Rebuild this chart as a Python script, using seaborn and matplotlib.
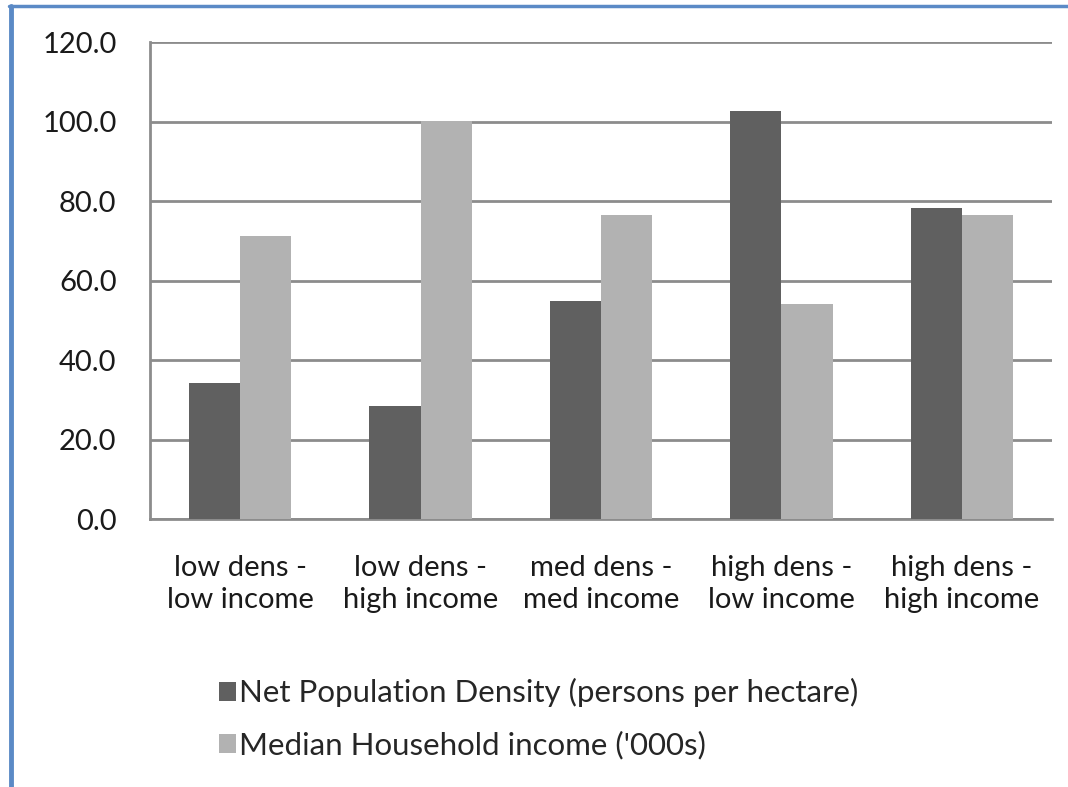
import matplotlib
matplotlib.use("Agg")
import matplotlib.pyplot as plt
import seaborn as sns
import pandas as pd
from matplotlib.ticker import FormatStrFormatter, FixedLocator
from matplotlib.lines import Line2D

categories = [
    "low dens -\nlow income",
    "low dens -\nhigh income",
    "med dens -\nmed income",
    "high dens -\nlow income",
    "high dens -\nhigh income",
]
density = [34.3, 28.5, 54.8, 102.7, 78.2]
income = [71.2, 100.1, 76.5, 54.1, 76.5]
series_names = [
    "Net Population Density (persons per hectare)",
    "Median Household income ('000s)",
]

df = pd.DataFrame(
    {
        "Category": categories * 2,
        "Value": density + income,
        "Series": [series_names[0]] * len(categories) + [series_names[1]] * len(categories),
    }
)

sns.set_style("white")
plt.rcParams["font.family"] = ["Lato", "DejaVu Sans"]

fig = plt.figure(figsize=(10.68, 7.87), dpi=100)
ax = fig.add_axes([0.1404, 0.3405, 0.8446, 0.6061])

sns.barplot(
    data=df,
    x="Category",
    y="Value",
    hue="Series",
    palette=["#606060", "#b2b2b2"],
    width=0.567,
    saturation=1,
    edgecolor="none",
    ax=ax,
    zorder=3,
)

ax.set_ylim(0, 120)
ax.set_xlim(-0.5, len(categories) - 0.5)
ax.set_yticks(range(0, 121, 20))
ax.yaxis.set_major_formatter(FormatStrFormatter("%.1f"))
ax.yaxis.grid(True, color="#8c8c8c", linewidth=2, zorder=0)
ax.set_axisbelow(True)
ax.set_xlabel("")
ax.set_ylabel("")

for side in ["top", "right"]:
    ax.spines[side].set_visible(False)
for side in ["left", "bottom"]:
    ax.spines[side].set_color("#8c8c8c")
    ax.spines[side].set_linewidth(2)

ax.xaxis.set_minor_locator(FixedLocator([i - 0.5 for i in range(len(categories) + 1)]))
ax.tick_params(axis="x", which="major", length=0, pad=26, labelsize=21, labelcolor="#1a1a1a")
ax.tick_params(axis="x", which="minor", length=9, width=2, color="#8c8c8c", direction="out")
ax.tick_params(axis="y", length=9, width=2, color="#8c8c8c", pad=15, labelsize=21, labelcolor="#1a1a1a")
for lbl in ax.get_xticklabels():
    lbl.set_linespacing(1.28)

handles, labels = ax.get_legend_handles_labels()
ax.legend(
    handles,
    labels,
    loc="upper left",
    bbox_to_anchor=(0.19, 0.158),
    bbox_transform=fig.transFigure,
    frameon=False,
    fontsize=22.5,
    handlelength=0.55,
    handleheight=0.55,
    handletextpad=0.12,
    labelspacing=0.75,
    borderpad=0,
)

# blue frame around the picture (left and top edges)
fig.add_artist(Line2D([0.0099, 0.0099], [0.0, 0.992], transform=fig.transFigure, color="#5b8ac6", linewidth=3.5))
fig.add_artist(Line2D([0.0085, 1.0], [0.992, 0.992], transform=fig.transFigure, color="#5b8ac6", linewidth=2.5))

fig.savefig("out.png", dpi=100)
